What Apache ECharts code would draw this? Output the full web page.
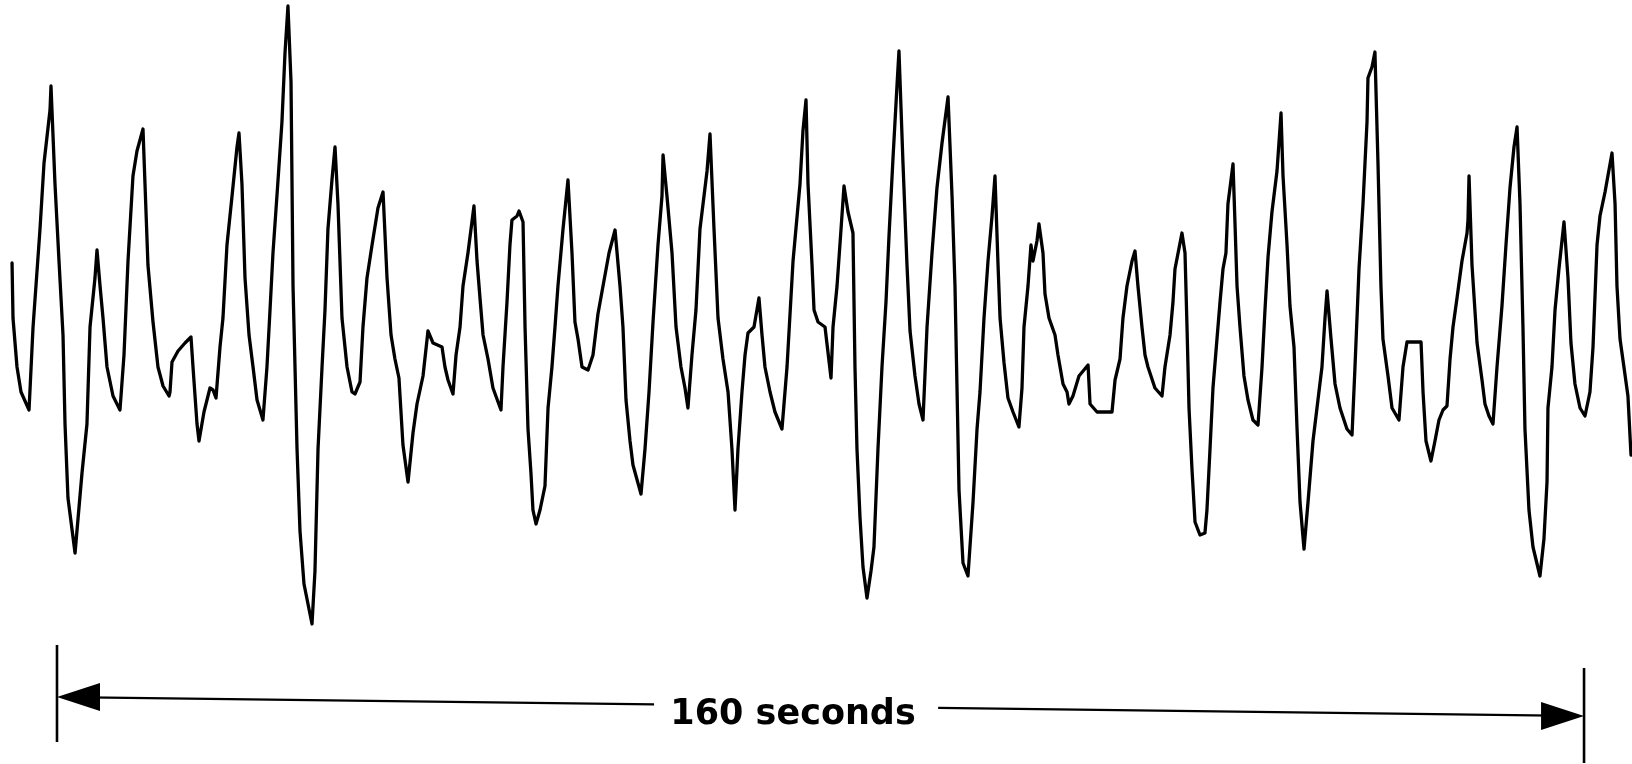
<!DOCTYPE html>
<html>
<head>
<meta charset="utf-8">
<title>160 seconds</title>
<script src="https://cdn.jsdelivr.net/npm/echarts@6.0.0/dist/echarts.min.js"></script>
<style>
  html, body { margin: 0; padding: 0; background: #fff; }
  #chart-container { width: 1632px; height: 764px; }
</style>
</head>
<body>
<div id="chart-container"></div>
<script>
// trace: time (s) against deflection (arbitrary units)
const traceSeconds = [
  -4.71, -4.61, -4.19, -3.77, -2.93, -2.51, -1.78, -1.36, -0.73, -0.63,
  -0.21, 0.21, 0.63, 0.84, 1.15, 1.89, 2.62, 3.14, 3.46, 3.98,
  4.19, 4.51, 4.82, 5.24, 5.87, 6.60, 7.02, 7.44, 7.96, 8.38,
  9.01, 9.22, 9.53, 10.06, 10.58, 11.11, 11.74, 11.84, 12.05, 12.68,
  13.41, 14.04, 14.25, 14.67, 14.88, 15.40, 16.03, 16.35, 16.66, 17.08,
  17.39, 17.81, 18.34, 18.86, 19.07, 19.38, 19.70, 20.12, 20.54, 20.96,
  21.58, 22.00, 22.32, 22.63, 23.16, 23.57, 23.89, 24.20, 24.52, 24.73,
  25.15, 25.46, 25.88, 26.72, 27.03, 27.35, 27.77, 28.08, 28.39, 28.81,
  29.13, 29.44, 29.86, 30.39, 30.91, 31.22, 31.75, 32.06, 32.48, 33.01,
  33.63, 34.16, 34.58, 35.00, 35.41, 35.83, 36.25, 36.78, 37.30, 37.72,
  38.35, 38.87, 39.40, 40.34, 40.65, 40.97, 41.49, 41.81, 42.23, 42.54,
  43.06, 43.69, 44.01, 44.32, 44.64, 45.16, 45.68, 46.52, 46.73, 47.15,
  47.46, 47.67, 48.20, 48.41, 48.83, 49.04, 49.35, 49.66, 49.87, 50.19,
  50.61, 51.13, 51.45, 51.86, 52.18, 52.49, 53.02, 53.54, 53.96, 54.27,
  54.59, 55.01, 55.64, 56.16, 56.68, 57.21, 57.84, 58.47, 58.99, 59.30,
  59.62, 60.04, 60.35, 61.19, 61.61, 62.03, 62.45, 62.97, 63.39, 63.50,
  63.91, 64.44, 64.86, 65.38, 65.80, 66.11, 66.53, 66.95, 67.37, 68.11,
  68.42, 68.84, 69.26, 69.78, 70.31, 70.72, 71.04, 71.35, 71.77, 72.09,
  72.40, 73.03, 73.55, 73.87, 74.18, 74.71, 75.23, 75.96, 76.49, 77.12,
  77.85, 78.16, 78.48, 78.69, 79.11, 79.32, 79.74, 80.47, 81.10, 81.31,
  81.73, 82.15, 82.46, 82.88, 83.40, 83.61, 83.82, 84.14, 84.45, 84.87,
  85.29, 85.60, 86.02, 86.44, 86.86, 87.17, 87.59, 88.01, 88.22, 88.64,
  89.06, 89.38, 89.90, 90.32, 90.74, 91.16, 91.68, 92.20, 92.73, 93.36,
  93.78, 94.09, 94.30, 94.51, 94.93, 95.45, 95.98, 96.40, 96.71, 97.13,
  97.55, 97.97, 98.28, 98.60, 98.81, 99.23, 99.64, 100.17, 100.79, 101.11,
  101.32, 101.74, 102.05, 102.26, 102.68, 102.89, 103.31, 103.52, 103.94, 104.57,
  104.88, 105.41, 105.83, 106.03, 106.45, 107.08, 108.03, 108.24, 108.97, 110.54,
  110.86, 111.38, 111.69, 112.11, 112.64, 112.95, 113.26, 113.68, 114.00, 114.31,
  115.04, 115.78, 116.09, 116.62, 116.93, 117.14, 117.87, 118.19, 118.40, 118.61,
  118.92, 119.24, 119.76, 120.28, 120.49, 120.81, 121.12, 121.54, 121.86, 122.17,
  122.48, 122.69, 123.01, 123.22, 123.43, 123.64, 123.95, 124.37, 124.79, 125.31,
  125.84, 126.26, 126.57, 126.89, 127.30, 127.83, 128.25, 128.46, 128.88, 129.19,
  129.61, 129.93, 130.24, 130.66, 131.08, 131.60, 132.12, 132.54, 132.86, 133.07,
  133.49, 133.91, 134.43, 135.16, 135.69, 136.00, 136.42, 136.84, 137.26, 137.36,
  137.78, 138.09, 138.41, 138.72, 138.93, 139.46, 139.88, 140.61, 141.03, 141.45,
  142.92, 143.13, 143.44, 143.96, 144.38, 144.80, 145.22, 145.64, 145.96, 146.27,
  146.69, 147.21, 147.74, 147.84, 147.95, 148.26, 148.79, 149.31, 149.62, 150.04,
  150.46, 150.88, 151.40, 151.82, 152.24, 152.66, 152.98, 153.29, 153.60, 153.81,
  154.23, 154.65, 155.38, 155.80, 156.12, 156.22, 156.64, 156.96, 157.37, 157.90,
  158.32, 158.63, 159.05, 159.58, 160.10, 160.62, 160.94, 161.36, 161.67, 162.20,
  162.93, 163.25, 163.45, 163.77, 164.18, 164.60, 164.92
];

const traceAmplitude = [
  52, -3, -52, -77, -95, -12, 86, 152, 205, 229,
  131, 54, -20, -109, -183, -238, -158, -109, -12, 37,
  65, 29, -3, -52, -81, -95, -40, 54, 139, 164,
  186, 131, 50, -7, -52, -71, -81, -77, -47, -36,
  -28, -22, -52, -109, -126, -97, -73, -75, -83, -32,
  -3, 70, 119, 168, 182, 131, 37, -20, -52, -85,
  -105, -52, 5, 62, 135, 193, 262, 309, 233, 29,
  -134, -216, -269, -309, -256, -134, -52, 5, 86, 135,
  168, 111, -3, -52, -77, -79, -67, -12, 37, 70,
  107, 123, 37, -20, -44, -63, -130, -167, -118, -89,
  -61, -16, -28, -32, -52, -65, -79, -40, -12, 29,
  62, 109, 54, 17, -20, -44, -73, -95, -52, 13,
  70, 95, 99, 104, 93, -12, -114, -158, -195, -209,
  -195, -171, -93, -52, -12, 29, 86, 135, 62, -7,
  -24, -52, -55, -40, 1, 29, 62, 85, 29, -12,
  -85, -126, -150, -179, -134, -77, -7, 70, 119, 160,
  119, 62, -12, -52, -73, -93, -40, 5, 86, 144,
  181, 86, -3, -44, -77, -134, -195, -134, -77, -40,
  -18, -12, 17, -20, -52, -77, -97, -114, -52, 54,
  131, 184, 215, 131, 50, 5, -7, -12, -63, -12,
  29, 86, 129, 103, 82, -52, -134, -203, -252, -283,
  -256, -232, -134, -52, 13, 78, 156, 229, 264, 152,
  50, -16, -61, -89, -105, -12, 62, 127, 172, 218,
  119, 29, -73, -175, -248, -261, -187, -114, -77, -3,
  54, 99, 139, 50, -3, -48, -83, -97, -112, -73,
  -12, 29, 70, 54, 74, 91, 62, 21, -3, -20,
  -40, -69, -77, -89, -81, -61, -50, -89, -97, -97,
  -65, -44, -3, 29, 54, 64, 29, -12, -40, -52,
  -73, -81, -52, -20, 13, 46, 82, 62, -12, -93,
  -154, -207, -220, -218, -195, -134, -73, -24, 13, 46,
  62, 111, 135, 151, 91, 29, -12, -61, -85, -105,
  -110, -52, 5, 58, 103, 144, 202, 139, 70, 9,
  -32, -114, -187, -234, -187, -126, -85, -52, -3, 24,
  -24, -69, -93, -114, -120, -52, 46, 111, 193, 237,
  248, 263, 152, 29, -24, -61, -93, -105, -52, -27,
  -27, -77, -126, -146, -126, -105, -95, -91, -44, -12,
  17, 54, 82, 95, 139, 50, -28, -65, -89, -101,
  -109, -52, 9, 70, 127, 168, 188, 111, -12, -114,
  -195, -232, -261, -224, -167, -93, -52, 5, 46, 93,
  37, -28, -69, -93, -101, -77, -32, 70, 99, 123,
  162, 111, 29, -24, -52, -81, -140
];

// time scale bar under the trace
const scaleBarSeconds = [0, 160];
const scaleBarLabel = "160 seconds";

const chartContainer = document.getElementById("chart-container");
const myChart = echarts.init(chartContainer);

const traceData = traceSeconds.map((t, i) => [t, traceAmplitude[i]]);

function renderScaleBar(params, api) {
  const left = api.coord([api.value(0), -382]);
  const right = api.coord([api.value(1), -401]);
  const at = (f) => [
    left[0] + f * (right[0] - left[0]),
    left[1] + f * (right[1] - left[1]),
  ];
  const a = at(0.02);
  const gapStart = at(0.391);
  const gapEnd = at(0.577);
  const b = at(0.98);
  const labelPos = at(0.482);
  const barLine = { stroke: "#000", lineWidth: 2.2 };
  const tick = { stroke: "#000", lineWidth: 2.6 };
  return {
    type: "group",
    children: [
      { type: "line", shape: { x1: left[0], y1: left[1] - 52, x2: left[0], y2: left[1] + 45 }, style: tick },
      { type: "line", shape: { x1: right[0], y1: right[1] - 48, x2: right[0], y2: right[1] + 47 }, style: tick },
      { type: "line", shape: { x1: a[0], y1: a[1], x2: gapStart[0], y2: gapStart[1] }, style: barLine },
      { type: "line", shape: { x1: gapEnd[0], y1: gapEnd[1], x2: b[0], y2: b[1] }, style: barLine },
      {
        type: "polygon",
        shape: { points: [[left[0], left[1]], [left[0] + 43, left[1] - 14], [left[0] + 43, left[1] + 14]] },
        style: { fill: "#000" },
      },
      {
        type: "polygon",
        shape: { points: [[right[0], right[1]], [right[0] - 43, right[1] - 14], [right[0] - 43, right[1] + 14]] },
        style: { fill: "#000" },
      },
      {
        type: "text",
        x: labelPos[0],
        y: labelPos[1] + 9,
        style: {
          text: scaleBarLabel,
          font: 'bold 35px "DejaVu Sans"',
          fill: "#000",
          align: "center",
          verticalAlign: "middle",
        },
      },
    ],
  };
}

const option = {
  backgroundColor: "#fff",
  animation: false,
  grid: { left: 0, right: 0, top: 0, bottom: 0 },
  xAxis: {
    type: "value",
    min: -5.972,
    max: 165.025,
    show: false,
  },
  yAxis: {
    type: "value",
    min: -449,
    max: 315,
    show: false,
  },
  series: [
    {
      name: "trace",
      type: "line",
      data: traceData,
      symbol: "none",
      smooth: false,
      clip: false,
      lineStyle: { color: "#000", width: 3.3, join: "round", cap: "round" },
    },
    {
      name: "scale",
      type: "custom",
      coordinateSystem: "cartesian2d",
      renderItem: renderScaleBar,
      data: [scaleBarSeconds],
      encode: { x: [0, 1] },
      clip: false,
      silent: true,
    },
  ],
};

myChart.setOption(option);
</script>
</body>
</html>
